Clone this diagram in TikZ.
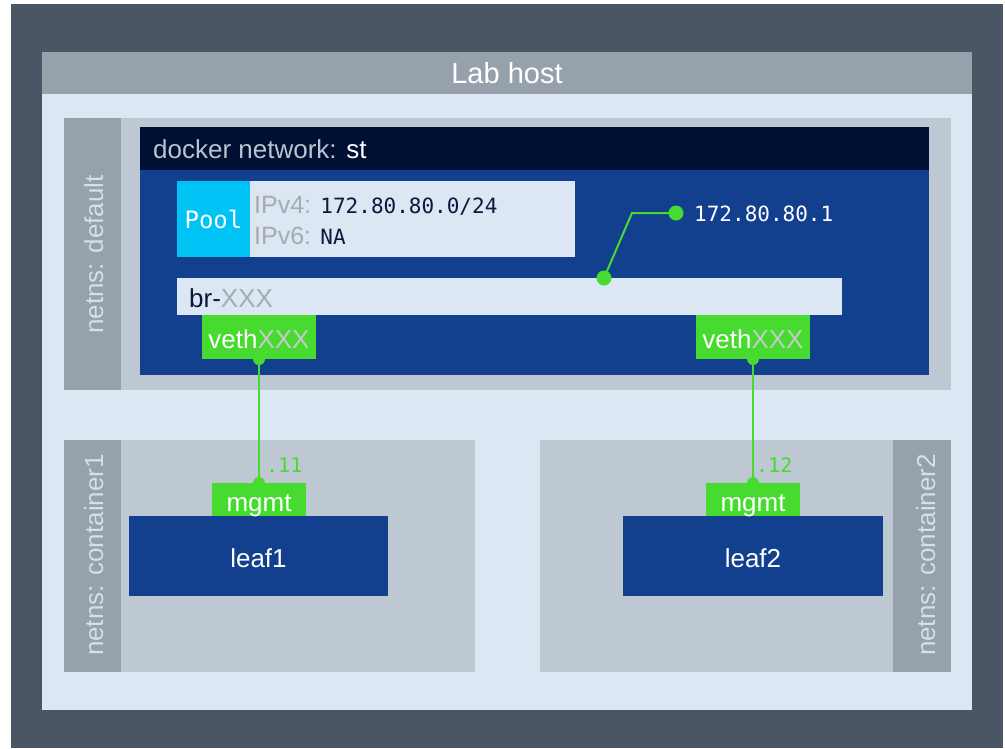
\documentclass[tikz,border=0pt]{standalone}
\usepackage{fontspec}
\setmainfont{Liberation Sans}
\newfontfamily\codefont{DejaVu Sans Mono}

\definecolor{bgdark}{HTML}{4A5565}
\definecolor{hostgray}{HTML}{97A1AC}
\definecolor{hostbody}{HTML}{DCE7F3}
\definecolor{nsbody}{HTML}{BEC8D2}
\definecolor{nsstrip}{HTML}{97A1AC}
\definecolor{nslabel}{HTML}{D6DEE8}
\definecolor{navy}{HTML}{001034}
\definecolor{netblue}{HTML}{123F8E}
\definecolor{poolcyan}{HTML}{00C3F5}
\definecolor{linkgreen}{HTML}{46DB2E}
\definecolor{dimgray}{HTML}{A3ABB5}
\definecolor{vethgray}{HTML}{C6CACE}
\definecolor{headgray}{HTML}{BAC3CE}
\definecolor{codedark}{HTML}{0A1A3A}

\begin{document}
\begin{tikzpicture}[x=1pt,y=-1pt,
  box/.style={inner sep=0pt, outer sep=0pt, anchor=north west, draw=none},
  sans/.style={font=\fontsize{26}{30}\selectfont},
  code/.style={font=\codefont\fontsize{21}{25}\selectfont},
  nstext/.style={sans, text=nslabel, rotate=90, anchor=base, inner sep=0pt},
  wire/.style={draw=linkgreen, line width=2pt},
  dot/.style={circle, fill=linkgreen, inner sep=0pt, minimum size=12pt},
  bigdot/.style={circle, fill=linkgreen, inner sep=0pt, minimum size=15pt},
  label/.style={inner sep=0pt}]
\useasboundingbox (0,0) rectangle (1005,748);
\fill[white] (0,0) rectangle (1005,748);

% outer frame and lab host
\node[box, fill=bgdark, minimum width=992pt, minimum height=744pt] (frame) at (11,4) {};
\node[box, fill=hostbody, minimum width=930pt, minimum height=658pt] (host) at (42,52) {};
\node[box, fill=hostgray, minimum width=930pt, minimum height=42pt] (hosthead) at (42,52) {};
\node[label, font=\fontsize{29}{33}\selectfont, text=white, anchor=base] (hosttitle) at (507,83) {Lab host};

% default namespace
\node[box, fill=nsbody, minimum width=887pt, minimum height=272pt] (nsdefault) at (64,118) {};
\node[box, fill=nsstrip, minimum width=57pt, minimum height=272pt] (nsdefstrip) at (64,118) {};
\node[nstext] (nsdeflabel) at (103,254.5) {netns: default};

% docker network
\node[box, fill=netblue, minimum width=789pt, minimum height=248pt] (dockernet) at (140,127) {};
\node[box, fill=navy, minimum width=789pt, minimum height=43pt] (dockerhead) at (140,127) {};
\node[label, sans, anchor=base west] (dockertitle) at (153,158)
  {\textcolor{headgray}{docker network:} \textcolor{white}{st}};

% address pool
\node[box, fill=poolcyan, minimum width=73pt, minimum height=76pt] (pool) at (177,181) {};
\node[label, font=\codefont\fontsize{24}{28}\selectfont, text=white, anchor=base] (pooltext) at (213.5,228) {Pool};
\node[box, fill=hostbody, minimum width=325pt, minimum height=76pt] (poolinfo) at (250,181) {};
\node[label, sans, anchor=base west] (ipv4) at (254,213)
  {\fontsize{25}{29}\selectfont\textcolor{dimgray}{IPv4:} {\codefont\fontsize{21}{25}\selectfont\color{codedark}172.80.80.0/24}};
\node[label, sans, anchor=base west] (ipv6) at (254,244)
  {\fontsize{25}{29}\selectfont\textcolor{dimgray}{IPv6:} {\codefont\fontsize{21}{25}\selectfont\color{codedark}NA}};

% bridge
\node[box, fill=hostbody, minimum width=665pt, minimum height=37pt] (bridge) at (177,278) {};
\node[label, sans, anchor=base west] (bridgetext) at (189,307)
  {\textcolor{codedark}{br-}\textcolor{dimgray}{XXX}};

% veth pairs
\node[box, fill=linkgreen, minimum width=114pt, minimum height=44pt] (veth1) at (202,315) {};
\node[label, sans, text=white, anchor=base] (veth1text) at (259,348) {veth\textcolor{vethgray}{XXX}};
\node[box, fill=linkgreen, minimum width=114pt, minimum height=44pt] (veth2) at (696,315) {};
\node[label, sans, text=white, anchor=base] (veth2text) at (753,348) {veth\textcolor{vethgray}{XXX}};

% gateway address
\node[bigdot] (gw) at (604,278) {};
\coordinate (gwbend) at (632,213);
\node[bigdot] (gwtip) at (676,213) {};
\draw[wire] (gw.center) -- (gwbend) -- (gwtip.center);
\node[label, code, text=white, anchor=base west] (gwtext) at (694,221) {172.80.80.1};

% container namespaces
\node[box, fill=nsbody, minimum width=411pt, minimum height=232pt] (ns1) at (64,440) {};
\node[box, fill=nsstrip, minimum width=57pt, minimum height=232pt] (ns1strip) at (64,440) {};
\node[nstext] (ns1label) at (103,555) {netns: container1};

\node[box, fill=nsbody, minimum width=411pt, minimum height=232pt] (ns2) at (540,440) {};
\node[box, fill=nsstrip, minimum width=58pt, minimum height=232pt] (ns2strip) at (893,440) {};
\node[nstext] (ns2label) at (935,555) {netns: container2};

% leaf nodes with their management interfaces
\node[box, fill=linkgreen, minimum width=94pt, minimum height=33pt] (mgmt1) at (212,483) {};
\node[box, fill=netblue, minimum width=259pt, minimum height=80pt] (leaf1) at (129,516) {};
\node[label, sans, text=white, anchor=base] (leaf1text) at (258.5,567) {leaf1};
\node[label, sans, text=white, anchor=base] (mgmt1text) at (259,511) {mgmt};

\node[box, fill=linkgreen, minimum width=94pt, minimum height=33pt] (mgmt2) at (706,483) {};
\node[box, fill=netblue, minimum width=260pt, minimum height=80pt] (leaf2) at (623,516) {};
\node[label, sans, text=white, anchor=base] (leaf2text) at (753,567) {leaf2};
\node[label, sans, text=white, anchor=base] (mgmt2text) at (753,511) {mgmt};

% links from veth to mgmt
\draw[wire] (veth1.south) -- (mgmt1.north);
\draw[wire] (veth2.south) -- (mgmt2.north);
\node[dot] (v1dot) at (veth1.south) {};
\node[dot] (m1dot) at (mgmt1.north) {};
\node[dot] (v2dot) at (veth2.south) {};
\node[dot] (m2dot) at (mgmt2.north) {};

\node[label, font=\codefont\fontsize{20}{24}\selectfont, text=linkgreen, anchor=base west] (ip11) at (266,472) {.11};
\node[label, font=\codefont\fontsize{20}{24}\selectfont, text=linkgreen, anchor=base west] (ip12) at (756,472) {.12};
\end{tikzpicture}
\end{document}
